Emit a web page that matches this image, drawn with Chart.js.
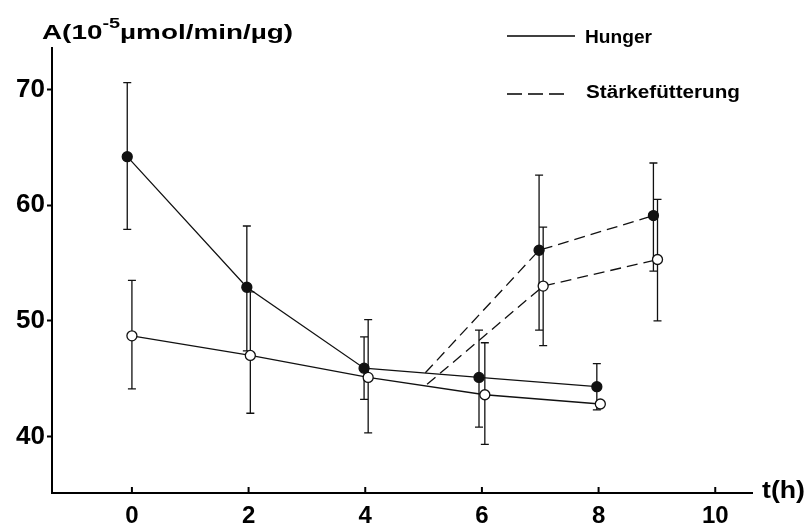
<!DOCTYPE html>
<html>
<head>
<meta charset="utf-8">
<script src="https://cdn.jsdelivr.net/npm/chart.js@4/dist/chart.umd.min.js"></script>
<style>
  html, body { margin: 0; padding: 0; background: #fff; }
  #wrap { width: 809px; height: 524px; }
</style>
</head>
<body>
<div id="wrap"><canvas id="chart" width="809" height="524"></canvas></div>
<script>
// Hunger (solid), filled and open circles
const hungerFilledX = [-0.08, 1.97, 3.98, 5.95, 7.97];
const hungerFilled = [64.2, 52.9, 45.9, 45.1, 44.3];
const hungerFilledLow = [57.9, 47.4, 43.2, 40.8, 42.3];
const hungerFilledHigh = [70.6, 58.2, 48.6, 49.2, 46.3];

const hungerOpenX = [0, 2.03, 4.05, 6.05, 8.03];
const hungerOpen = [48.7, 47.0, 45.1, 43.6, 42.8];
const hungerOpenLow = [44.1, 42.0, 40.3, 39.3, null];
const hungerOpenHigh = [53.5, 52.5, 50.1, 48.1, null];

// Stärkefütterung (dashed), first point is where the dashed line starts
const staerkeFilledX = [5.03, 6.98, 8.94];
const staerkeFilled = [45.5, 56.1, 59.1];
const staerkeFilledLow = [null, 49.2, 54.3];
const staerkeFilledHigh = [null, 62.6, 63.65];

const staerkeOpenX = [5.06, 7.05, 9.01];
const staerkeOpen = [44.5, 53.0, 55.3];
const staerkeOpenLow = [null, 47.85, 50.0];
const staerkeOpenHigh = [null, 58.1, 60.5];

const xTicks = [0, 2, 4, 6, 8, 10];
const yTicks = [40, 50, 60, 70];

const FONT = '"Liberation Sans", Arial, Helvetica, sans-serif';

function toPoints(xs, ys) {
    return xs.map((x, i) => ({x: x, y: ys[i]}));
}

function series(xs, ys, low, high, open, dashed, radii) {
    return {
        data: toPoints(xs, ys),
        low: low,
        high: high,
        showLine: true,
        borderColor: '#111',
        borderWidth: 1.3,
        borderDash: dashed ? [11, 6] : [],
        pointRadius: radii,
        pointBorderWidth: 1.3,
        pointBorderColor: '#111',
        pointBackgroundColor: open ? '#fff' : '#111',
        pointHoverRadius: radii,
        tension: 0
    };
}

// draw a run of text pieces, stretched sideways so it spans width w
function fillFit(ctx, pieces, x, y, w) {
    let natural = 0;
    pieces.forEach(p => { ctx.font = p.font; natural += ctx.measureText(p.text).width; });
    const k = w / natural;
    ctx.save();
    ctx.translate(x, y);
    ctx.scale(k, 1);
    let cx = 0;
    pieces.forEach(p => {
        ctx.font = p.font;
        ctx.fillText(p.text, cx, p.dy || 0);
        cx += ctx.measureText(p.text).width;
    });
    ctx.restore();
}

const errorBars = {
    id: 'errorBars',
    beforeDatasetsDraw(chart) {
        const ctx = chart.ctx;
        const xs = chart.scales.x, ys = chart.scales.y;
        ctx.save();
        ctx.strokeStyle = '#111';
        ctx.lineWidth = 1.3;
        chart.data.datasets.forEach(ds => {
            ds.data.forEach((p, i) => {
                if (ds.low[i] == null) return;
                const px = xs.getPixelForValue(p.x);
                const top = ys.getPixelForValue(ds.high[i]);
                const bot = ys.getPixelForValue(ds.low[i]);
                ctx.beginPath();
                ctx.moveTo(px, top); ctx.lineTo(px, bot);
                ctx.moveTo(px - 4, top); ctx.lineTo(px + 4, top);
                ctx.moveTo(px - 4, bot); ctx.lineTo(px + 4, bot);
                ctx.stroke();
            });
        });
        ctx.restore();
    },
    afterDraw(chart) {
        const ctx = chart.ctx;
        const xs = chart.scales.x;
        const area = chart.chartArea;
        ctx.save();
        ctx.strokeStyle = '#000';
        ctx.lineWidth = 2;
        // x ticks point inwards
        xTicks.forEach(v => {
            const px = xs.getPixelForValue(v);
            ctx.beginPath();
            ctx.moveTo(px, area.bottom);
            ctx.lineTo(px, area.bottom - 6);
            ctx.stroke();
        });

        ctx.fillStyle = '#000';
        ctx.textBaseline = 'alphabetic';
        // y title
        const tf = 'bold 21px ' + FONT;
        fillFit(ctx, [
            {text: 'A(10', font: tf},
            {text: '-5', font: 'bold 15px ' + FONT, dy: -11},
            {text: 'µmol/min/µg)', font: tf}
        ], 42, 39, 251);

        // x title
        fillFit(ctx, [{text: 't(h)', font: 'bold 24px ' + FONT}], 762, 498, 43);

        // legend
        ctx.lineWidth = 1.3;
        ctx.beginPath();
        ctx.moveTo(507, 36); ctx.lineTo(575, 36);
        ctx.stroke();
        ctx.setLineDash([15, 6]);
        ctx.beginPath();
        ctx.moveTo(507, 94); ctx.lineTo(564, 94);
        ctx.stroke();
        ctx.setLineDash([]);
        const lf = '600 18px ' + FONT;
        fillFit(ctx, [{text: 'Hunger', font: lf}], 585, 43, 67);
        fillFit(ctx, [{text: 'Stärkefütterung', font: lf}], 586, 98, 154);
        ctx.restore();
    }
};

const config = {
    type: 'scatter',
    data: {
        datasets: [
            series(hungerFilledX, hungerFilled, hungerFilledLow, hungerFilledHigh, false, false, 5),
            series(hungerOpenX, hungerOpen, hungerOpenLow, hungerOpenHigh, true, false, 5),
            series(staerkeFilledX, staerkeFilled, staerkeFilledLow, staerkeFilledHigh, false, true, [0, 5, 5]),
            series(staerkeOpenX, staerkeOpen, staerkeOpenLow, staerkeOpenHigh, true, true, [0, 5, 5])
        ]
    },
    options: {
        responsive: false,
        animation: false,
        layout: {padding: {top: 48, right: 57, left: 0, bottom: 0}},
        plugins: {legend: {display: false}, tooltip: {enabled: false}},
        scales: {
            x: {
                type: 'linear',
                min: -1.37,
                max: 10.63,
                afterBuildTicks: s => { s.ticks = xTicks.map(v => ({value: v})); },
                afterFit: s => { s.height = 31; },
                grid: {drawOnChartArea: false, drawTicks: false},
                border: {color: '#000', width: 2},
                ticks: {color: '#000', padding: 9, font: {family: FONT, size: 24, weight: 'bold'}}
            },
            y: {
                type: 'linear',
                min: 35.1,
                max: 73.6,
                afterBuildTicks: s => { s.ticks = yTicks.map(v => ({value: v})); },
                afterFit: s => { s.width = 52; },
                grid: {drawOnChartArea: false, tickLength: 5, color: '#000', tickWidth: 2},
                border: {color: '#000', width: 2},
                ticks: {color: '#000', padding: 2, font: {family: FONT, size: 26, weight: 'bold'}}
            }
        }
    },
    plugins: [errorBars]
};

new Chart(document.getElementById('chart'), config);
</script>
</body>
</html>
